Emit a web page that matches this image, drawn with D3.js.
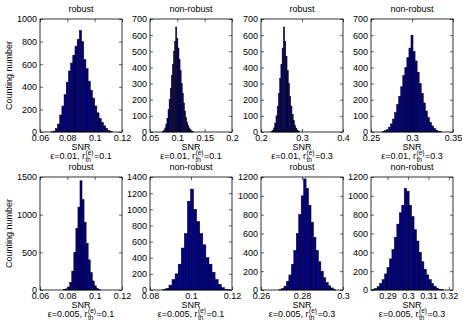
<!DOCTYPE html>
<html>
<head>
<meta charset="utf-8">
<script src="https://cdn.jsdelivr.net/npm/d3@7"></script>
<style>
  body { margin: 0; background: #fff; }
  text { font-family: "Liberation Sans", Arial, Helvetica, sans-serif; fill: #000; }
</style>
</head>
<body>
<div id="container"></div>
<script>
const width = 463;
const height = 327;

// panel texts
const titles = ["robust", "non-robust", "robust", "non-robust", "robust", "non-robust", "robust", "non-robust"];
const epsLabels = ["0.01", "0.01", "0.01", "0.01", "0.005", "0.005", "0.005", "0.005"];
const rLabels = ["0.1", "0.1", "0.3", "0.3", "0.1", "0.1", "0.3", "0.3"];

// axes ranges and ticks
const xDomains = [[0.06, 0.12], [0.05, 0.2], [0.2, 0.4], [0.25, 0.35], [0.06, 0.12], [0.08, 0.12], [0.26, 0.3], [0.282, 0.322]];
const xTicks = [
  [0.06, 0.08, 0.1, 0.12], [0.05, 0.1, 0.15, 0.2], [0.2, 0.3, 0.4], [0.25, 0.3, 0.35],
  [0.06, 0.08, 0.1, 0.12], [0.08, 0.1, 0.12], [0.26, 0.28, 0.3], [0.29, 0.3, 0.31, 0.32]
];
const yMax = [1000, 700, 700, 700, 1500, 1400, 1200, 1200];
const yTicks = [
  [0, 200, 400, 600, 800, 1000],
  [0, 100, 200, 300, 400, 500, 600, 700],
  [0, 100, 200, 300, 400, 500, 600, 700],
  [0, 100, 200, 300, 400, 500, 600, 700],
  [0, 500, 1000, 1500],
  [0, 200, 400, 600, 800, 1000, 1200, 1400],
  [0, 200, 400, 600, 800, 1000, 1200],
  [0, 200, 400, 600, 800, 1000, 1200]
];

// histogram bins: first left edge and bin width, then counts per bin
const binStarts = [0.0680, 0.0730, 0.2245, 0.26375, 0.07725, 0.08625, 0.2688, 0.2826];
const binWidths = [0.0016, 0.002, 0.003, 0.0025, 0.0015, 0.0015, 0.0012, 0.0012];
const counts1 = [2, 8, 30, 70, 150, 230, 330, 440, 540, 610, 680, 760, 820, 900, 800, 640, 560, 450, 370, 300, 230, 170, 120, 85, 55, 30, 12, 4];
const counts2 = [3, 10, 25, 50, 85, 140, 200, 270, 350, 420, 500, 560, 650, 580, 520, 450, 380, 300, 240, 180, 130, 90, 60, 40, 25, 14, 7, 3];
const counts3 = [3, 10, 25, 55, 100, 160, 240, 330, 420, 520, 650, 560, 470, 380, 300, 220, 160, 110, 70, 42, 24, 12, 5];
const counts4 = [3, 8, 15, 30, 50, 80, 120, 170, 220, 280, 350, 400, 460, 520, 600, 500, 440, 370, 300, 240, 180, 130, 90, 60, 38, 22, 12, 5, 2];
const counts5 = [5, 15, 40, 100, 250, 500, 820, 1100, 1450, 1200, 900, 620, 400, 230, 120, 55, 20, 6];
const counts6 = [5, 20, 60, 130, 200, 320, 520, 700, 1100, 1250, 1000, 850, 700, 560, 400, 320, 220, 130, 70, 30, 10, 3];
const counts7 = [5, 15, 40, 90, 160, 270, 420, 600, 800, 1000, 1180, 1080, 900, 720, 560, 420, 300, 200, 130, 80, 45, 22, 8];
const counts8 = [5, 15, 35, 70, 110, 170, 240, 330, 430, 560, 700, 820, 900, 1080, 1050, 900, 780, 640, 520, 400, 300, 220, 160, 110, 70, 40, 20, 8, 3];
const allCounts = [counts1, counts2, counts3, counts4, counts5, counts6, counts7, counts8];

// layout
const lefts = [40, 150, 261, 371];
const plotW = 82;
const tops = [19, 177];
const plotH = 113;

const svg = d3
  .select("#container")
  .append("svg")
  .attr("width", width)
  .attr("height", height);

const fmt = (d) => String(+d.toFixed(4));

allCounts.forEach((counts, k) => {
  const row = Math.floor(k / 4);
  const col = k % 4;
  const x = d3.scaleLinear().domain(xDomains[k]).range([0, plotW]);
  const y = d3.scaleLinear().domain([0, yMax[k]]).range([plotH, 0]);
  const g = svg.append("g").attr("transform", `translate(${lefts[col]},${tops[row]})`);

  // bars
  const bins = counts.map((c, i) => ({ x0: binStarts[k] + i * binWidths[k], c: c }));
  g.append("g")
    .selectAll("rect")
    .data(bins)
    .enter()
    .append("rect")
    .attr("x", (d) => x(d.x0))
    .attr("y", (d) => y(d.c))
    .attr("width", (d) => x(d.x0 + binWidths[k]) - x(d.x0))
    .attr("height", (d) => plotH - y(d.c))
    .attr("fill", "#000090")
    .attr("stroke", "#000")
    .attr("stroke-width", 0.5);

  // axes, ticks inward on all sides
  g.append("g").attr("transform", `translate(0,${plotH})`)
    .call(d3.axisBottom(x).tickValues(xTicks[k]).tickFormat(fmt).tickSizeInner(-3).tickSizeOuter(0).tickPadding(3));
  g.append("g")
    .call(d3.axisTop(x).tickValues(xTicks[k]).tickFormat("").tickSizeInner(-3).tickSizeOuter(0));
  g.append("g")
    .call(d3.axisLeft(y).tickValues(yTicks[k]).tickFormat(fmt).tickSizeInner(-3).tickSizeOuter(0).tickPadding(3));
  g.append("g").attr("transform", `translate(${plotW},0)`)
    .call(d3.axisRight(y).tickValues(yTicks[k]).tickFormat("").tickSizeInner(-3).tickSizeOuter(0));
  g.selectAll(".domain").remove();
  g.selectAll(".tick line").attr("stroke", "#000").attr("stroke-width", 0.6);
  g.selectAll(".tick text").attr("font-size", 9).attr("font-family", "Liberation Sans, Arial, sans-serif");

  g.append("rect")
    .attr("width", plotW)
    .attr("height", plotH)
    .attr("fill", "none")
    .attr("stroke", "#000")
    .attr("stroke-width", 0.8);

  // title
  g.append("text")
    .attr("x", plotW / 2)
    .attr("y", -7)
    .attr("text-anchor", "middle")
    .attr("font-size", 9)
    .text(titles[k]);

  // x label: SNR and parameter line
  g.append("text")
    .attr("x", plotW / 2)
    .attr("y", plotH + 18)
    .attr("text-anchor", "middle")
    .attr("font-size", 9)
    .text("SNR");

  const lab = g.append("g");
  const base = plotH + 27;
  const t1 = lab.append("text").attr("x", 0).attr("y", base).attr("font-size", 9)
    .text(`\u03b5=${epsLabels[k]}, r`);
  const w1 = t1.node().getComputedTextLength();
  const sup = lab.append("text").attr("x", w1 + 0.5).attr("y", base - 4).attr("font-size", 6.5).text("(e)");
  const sub = lab.append("text").attr("x", w1 + 0.5).attr("y", base + 3).attr("font-size", 6.5).text("th");
  const w2 = Math.max(sup.node().getComputedTextLength(), sub.node().getComputedTextLength());
  const t3 = lab.append("text").attr("x", w1 + w2 + 1).attr("y", base).attr("font-size", 9)
    .text(`=${rLabels[k]}`);
  const total = w1 + w2 + 1 + t3.node().getComputedTextLength();
  lab.attr("transform", `translate(${plotW / 2 - total / 2},0)`);

  // y label on the left column only
  if (col === 0) {
    g.append("text")
      .attr("transform", `translate(${-28},${plotH / 2}) rotate(-90)`)
      .attr("text-anchor", "middle")
      .attr("font-size", 9)
      .text("Counting number");
  }
});
</script>
</body>
</html>
